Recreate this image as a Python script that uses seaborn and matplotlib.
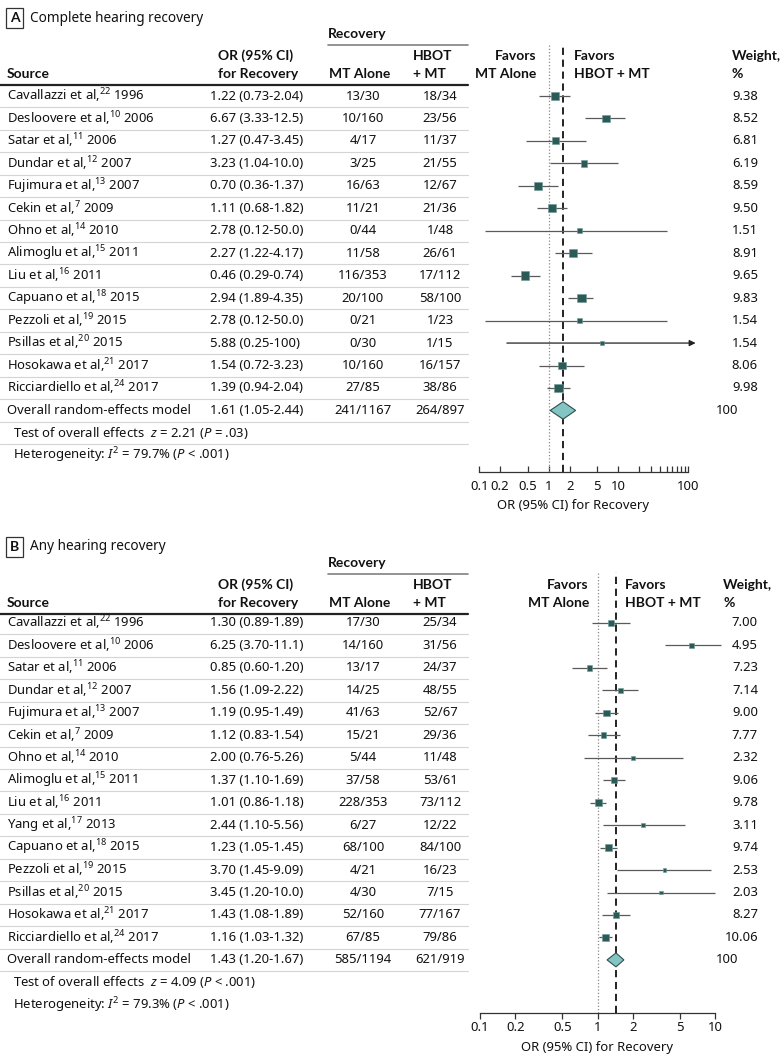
import numpy as np
import pandas as pd
import matplotlib
matplotlib.use("Agg")
import matplotlib.pyplot as plt
import seaborn as sns

sns.set_style("white")
FONT = 'Noto Sans'
BFONT = 'Lato'
plt.rcParams['font.family'] = [FONT, 'DejaVu Sans']
plt.rcParams['mathtext.fontset'] = 'custom'
plt.rcParams['mathtext.rm'] = FONT
plt.rcParams['mathtext.it'] = FONT + ':italic'
plt.rcParams['mathtext.bf'] = FONT + ':bold'

# ---------------- data: panel A (complete hearing recovery) ----------------
a_source = ["Cavallazzi et al", "Desloovere et al", "Satar et al", "Dundar et al",
            "Fujimura et al", "Cekin et al", "Ohno et al", "Alimoglu et al", "Liu et al",
            "Capuano et al", "Pezzoli et al", "Psillas et al", "Hosokawa et al",
            "Ricciardiello et al"]
a_ref = ["22", "10", "11", "12", "13", "7", "14", "15", "16", "18", "19", "20", "21", "24"]
a_year = ["1996", "2006", "2006", "2007", "2007", "2009", "2010", "2011", "2011",
          "2015", "2015", "2015", "2017", "2017"]
a_or = [1.22, 6.67, 1.27, 3.23, 0.70, 1.11, 2.78, 2.27, 0.46, 2.94, 2.78, 5.88, 1.54, 1.39]
a_lo = [0.73, 3.33, 0.47, 1.04, 0.36, 0.68, 0.12, 1.22, 0.29, 1.89, 0.12, 0.25, 0.72, 0.94]
a_hi = [2.04, 12.5, 3.45, 10.0, 1.37, 1.82, 50.0, 4.17, 0.74, 4.35, 50.0, 100, 3.23, 2.04]
a_mt = ["13/30", "10/160", "4/17", "3/25", "16/63", "11/21", "0/44", "11/58", "116/353",
        "20/100", "0/21", "0/30", "10/160", "27/85"]
a_hb = ["18/34", "23/56", "11/37", "21/55", "12/67", "21/36", "1/48", "26/61", "17/112",
        "58/100", "1/23", "1/15", "16/157", "38/86"]
a_w = [9.38, 8.52, 6.81, 6.19, 8.59, 9.50, 1.51, 8.91, 9.65, 9.83, 1.54, 1.54, 8.06, 9.98]
a_ci_txt = ["1.22 (0.73-2.04)", "6.67 (3.33-12.5)", "1.27 (0.47-3.45)", "3.23 (1.04-10.0)",
            "0.70 (0.36-1.37)", "1.11 (0.68-1.82)", "2.78 (0.12-50.0)", "2.27 (1.22-4.17)",
            "0.46 (0.29-0.74)", "2.94 (1.89-4.35)", "2.78 (0.12-50.0)", "5.88 (0.25-100)",
            "1.54 (0.72-3.23)", "1.39 (0.94-2.04)"]
a_overall = dict(or_=1.61, lo=1.05, hi=2.44, txt="1.61 (1.05-2.44)", mt="241/1167", hb="264/897")
a_test = r"Test of overall effects  $z$ = 2.21 ($P$ = .03)"
a_het = r"Heterogeneity: $I^2$ = 79.7% ($P$ < .001)"
a_ticks = [0.1, 0.2, 0.5, 1, 2, 5, 10, 100]
a_ticklabels = ["0.1", "0.2", "0.5", "1", "2", "5", "10", "100"]

# ---------------- data: panel B (any hearing recovery) ----------------
b_source = ["Cavallazzi et al", "Desloovere et al", "Satar et al", "Dundar et al",
            "Fujimura et al", "Cekin et al", "Ohno et al", "Alimoglu et al", "Liu et al",
            "Yang et al", "Capuano et al", "Pezzoli et al", "Psillas et al",
            "Hosokawa et al", "Ricciardiello et al"]
b_ref = ["22", "10", "11", "12", "13", "7", "14", "15", "16", "17", "18", "19", "20", "21", "24"]
b_year = ["1996", "2006", "2006", "2007", "2007", "2009", "2010", "2011", "2011", "2013",
          "2015", "2015", "2015", "2017", "2017"]
b_or = [1.30, 6.25, 0.85, 1.56, 1.19, 1.12, 2.00, 1.37, 1.01, 2.44, 1.23, 3.70, 3.45, 1.43, 1.16]
b_lo = [0.89, 3.70, 0.60, 1.09, 0.95, 0.83, 0.76, 1.10, 0.86, 1.10, 1.05, 1.45, 1.20, 1.08, 1.03]
b_hi = [1.89, 11.1, 1.20, 2.22, 1.49, 1.54, 5.26, 1.69, 1.18, 5.56, 1.45, 9.09, 10.0, 1.89, 1.32]
b_mt = ["17/30", "14/160", "13/17", "14/25", "41/63", "15/21", "5/44", "37/58", "228/353",
        "6/27", "68/100", "4/21", "4/30", "52/160", "67/85"]
b_hb = ["25/34", "31/56", "24/37", "48/55", "52/67", "29/36", "11/48", "53/61", "73/112",
        "12/22", "84/100", "16/23", "7/15", "77/167", "79/86"]
b_w = [7.00, 4.95, 7.23, 7.14, 9.00, 7.77, 2.32, 9.06, 9.78, 3.11, 9.74, 2.53, 2.03, 8.27, 10.06]
b_ci_txt = ["1.30 (0.89-1.89)", "6.25 (3.70-11.1)", "0.85 (0.60-1.20)", "1.56 (1.09-2.22)",
            "1.19 (0.95-1.49)", "1.12 (0.83-1.54)", "2.00 (0.76-5.26)", "1.37 (1.10-1.69)",
            "1.01 (0.86-1.18)", "2.44 (1.10-5.56)", "1.23 (1.05-1.45)", "3.70 (1.45-9.09)",
            "3.45 (1.20-10.0)", "1.43 (1.08-1.89)", "1.16 (1.03-1.32)"]
b_overall = dict(or_=1.43, lo=1.20, hi=1.67, txt="1.43 (1.20-1.67)", mt="585/1194", hb="621/919")
b_test = r"Test of overall effects  $z$ = 4.09 ($P$ < .001)"
b_het = r"Heterogeneity: $I^2$ = 79.3% ($P$ < .001)"
b_ticks = [0.1, 0.2, 0.5, 1, 2, 5, 10]
b_ticklabels = ["0.1", "0.2", "0.5", "1", "2", "5", "10"]

# ---------------- styling ----------------
W, H = 783, 1064
SQ = "#2c5a57"
DIAM = "#82c5c2"
CI = "#5a5a5a"
TXT = "#111111"
FS = 9.4

fig = plt.figure(figsize=(W / 100, H / 100), dpi=100)
tx = fig.add_axes([0, 0, 1, 1])
tx.set_xlim(0, W)
tx.set_ylim(H, 0)
tx.axis("off")


def T(x, y, s, ha="left", bold=False, fs=FS, **kw):
    if bold:
        tx.text(x, y, s, ha=ha, va="center", fontsize=fs + 0.6, color=TXT,
                fontweight="bold", family=[BFONT, 'DejaVu Sans'], **kw)
    else:
        tx.text(x, y, s, ha=ha, va="center", fontsize=fs, color=TXT, **kw)


def panel(letter, title, oy, rows_y0, src, ref, yr, ors, los, his, mts, hbs, ws, citxt,
          overall, test, het, test_line, ticks, ticklabels, minor, x1, dec, ax_px, spine_hi,
          fav_l, fav_r, wt_x, ax_bottom, tickdir, side_a, side_b, diam_h, xlab_x):
    step = 22.46
    n = len(src)
    # header
    tx.text(14.5, oy + 18, letter, ha="center", va="center", fontsize=10, fontweight="bold",
            family=[BFONT], color=TXT,
            bbox=dict(boxstyle="square,pad=0.3", fc="white", ec="#333333", lw=0.9))
    T(30, oy + 18, title, fs=9.8)
    T(328, oy + 34, "Recovery", bold=True)
    tx.plot([328, 468], [oy + 44.5, oy + 44.5], color="#808080", lw=1.2)
    T(218, oy + 56, "OR (95% CI)", bold=True)
    T(218, oy + 74, "for Recovery", bold=True)
    T(7, oy + 74, "Source", bold=True)
    T(360, oy + 74, "MT Alone", ha="center", bold=True)
    T(413, oy + 56, "HBOT", bold=True)
    T(413, oy + 74, "+ MT", bold=True)
    tx.plot([0, 468], [oy + 84.5, oy + 84.5], color="#222222", lw=1.6)
    T(fav_l, oy + 56, "Favors", ha="right", bold=True)
    T(fav_l, oy + 74, "MT Alone", ha="right", bold=True)
    T(fav_r, oy + 56, "Favors", bold=True)
    T(fav_r, oy + 74, "HBOT + MT", bold=True)
    T(wt_x, oy + 56, "Weight,", bold=True)
    T(wt_x, oy + 74, "%", bold=True)

    # table rows
    for i in range(n):
        y = rows_y0 + i * step
        T(7, y, f"{src[i]},$^{{{ref[i]}}}$ {yr[i]}")
        T(210, y, citxt[i])
        T(363, y, mts[i], ha="center")
        T(440, y, hbs[i], ha="center")
        T(758, y, f"{ws[i]:.2f}", ha="right")
        tx.plot([0, 468], [y + 11.2, y + 11.2], color="#d4d4d4", lw=0.8)
    yo = rows_y0 + n * step
    T(7, yo, "Overall random-effects model")
    T(210, yo, overall["txt"])
    T(363, yo, overall["mt"], ha="center")
    T(440, yo, overall["hb"], ha="center")
    T(738, yo, "100", ha="right")
    tx.plot([0, 468], [yo + 11.2, yo + 11.2], color="#d4d4d4", lw=0.8)
    T(13, yo + step, test)
    if test_line:
        tx.plot([0, 468], [yo + step + 11.2, yo + step + 11.2], color="#d4d4d4", lw=0.8)
    T(13, yo + 2 * step, het)
    T(xlab_x, ax_bottom + 34, "OR (95% CI) for Recovery", ha="center")

    # forest axes (pixel frame -> figure fraction)
    top = oy + 43
    l, r = ax_px
    ax = fig.add_axes([l / W, 1 - ax_bottom / H, (r - l) / W, (ax_bottom - top) / H])
    ax.patch.set_alpha(0)
    df = pd.DataFrame({"or": ors, "lo": los, "hi": his, "w": ws,
                       "row": np.arange(n, dtype=float)})
    for i, rw in df.iterrows():
        if rw["hi"] >= 100:
            ax.annotate("", xy=(rw["hi"] * 1.3, rw["row"]), xytext=(rw["lo"], rw["row"]),
                        arrowprops=dict(arrowstyle="-|>", color="#222222", lw=0.9,
                                        mutation_scale=9, shrinkA=0, shrinkB=0),
                        annotation_clip=False)
        else:
            ax.hlines(rw["row"], rw["lo"], rw["hi"], color=CI, lw=0.9, zorder=2, clip_on=False)
    size_map = {w: ((side_a + side_b * w) * 0.72) ** 2 for w in ws}
    sns.scatterplot(data=df, x="or", y="row", size="w", sizes=size_map, marker="s",
                    color=SQ, edgecolor="#6f9a97", linewidth=0.4, legend=False, ax=ax,
                    zorder=3, clip_on=False)
    ro = float(n)
    ax.fill([overall["lo"], overall["or_"], overall["hi"], overall["or_"]],
            [ro, ro - diam_h, ro, ro + diam_h], facecolor=DIAM, edgecolor="#2f4f4d",
            lw=0.8, zorder=4, clip_on=False)
    ax.axvline(1, color="#8a8a8a", lw=0.9, ls=(0, (1, 1.6)), zorder=1)
    ax.axvline(overall["or_"], color="#111111", lw=1.3, ls=(0, (4, 2.6)), zorder=1)
    ax.set_xscale("log")
    ax.set_xlim(10 ** ((l - x1) / dec), 10 ** ((r - x1) / dec))
    ax.set_ylim((ax_bottom - rows_y0) / step, (top - rows_y0) / step)
    for s in ["top", "left", "right"]:
        ax.spines[s].set_visible(False)
    ax.spines["bottom"].set_bounds(ticks[0], spine_hi)
    ax.spines["bottom"].set_color("#333333")
    ax.spines["bottom"].set_linewidth(0.9)
    ax.set_yticks([])
    ax.set_xticks(ticks)
    ax.set_xticklabels(ticklabels)
    ax.set_xticks(minor, minor=True)
    ax.xaxis.set_minor_formatter(matplotlib.ticker.NullFormatter())
    ax.tick_params(axis="x", which="both", direction=tickdir, bottom=True, colors="#333333",
                   labelcolor=TXT, labelsize=FS, width=0.9, length=4.5,
                   pad=6 if tickdir == "in" else 1.5)
    ax.set_xlabel("")
    ax.set_ylabel("")
    return ax


panel("A", "Complete hearing recovery", 0, 96, a_source, a_ref, a_year, a_or, a_lo, a_hi,
      a_mt, a_hb, a_w, a_ci_txt, a_overall, a_test, a_het, True, a_ticks, a_ticklabels,
      [20, 30, 40, 50, 60, 70, 80, 90], 548.7, 69.5, (440, 720), 100, 536, 574, 732,
      471.7, "in", 3.8, 0.48, 0.39, 573)

panel("B", "Any hearing recovery", 529, 623, b_source, b_ref, b_year, b_or, b_lo, b_hi,
      b_mt, b_hb, b_w, b_ci_txt, b_overall, b_test, b_het, False, b_ticks, b_ticklabels,
      [], 597.7, 117.7, (470, 730), 10, 589, 625, 723,
      1013, "out", 2.7, 0.41, 0.31, 597)

fig.savefig("out.png", dpi=100)
